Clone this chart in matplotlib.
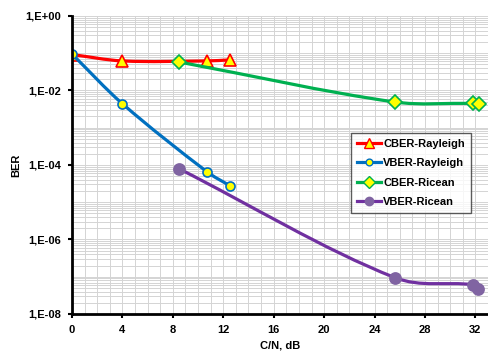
import matplotlib
matplotlib.use('Agg')
import matplotlib.pyplot as plt
import numpy as np
from matplotlib.path import Path
from matplotlib.patches import PathPatch
from matplotlib.lines import Line2D
from matplotlib.ticker import FixedLocator, MultipleLocator, LogLocator, NullFormatter

plt.rcParams['font.family'] = ['Liberation Sans', 'DejaVu Sans']
plt.rcParams['font.weight'] = 'bold'

# data (C/N in dB, BER)
cber_ray_x = [0, 4, 10.7, 12.5]
cber_ray_y = [0.092, 0.062, 0.062, 0.066]
vber_ray_x = [0, 4, 10.7, 12.5]
vber_ray_y = [0.095, 0.0044, 6.6e-5, 2.8e-5]
cber_ric_x = [8.5, 25.6, 31.8, 32.3]
cber_ric_y = [0.058, 0.0049, 0.0045, 0.0044]
vber_ric_x = [8.5, 25.6, 31.8, 32.2]
vber_ric_y = [7.9e-5, 9.5e-8, 6.1e-8, 4.8e-8]

y_ticks = [1e0, 1e-2, 1e-4, 1e-6, 1e-8]
y_ticklabels = ['1,E+00', '1,E-02', '1,E-04', '1,E-06', '1,E-08']
x_ticks = [0, 4, 8, 12, 16, 20, 24, 28, 32]


def smooth_path(xs, ys):
    # smoothed line like excel: bezier through points, tangents scaled by x-spacing
    px = np.array(xs, float)
    py = np.log10(ys)
    n = len(px)
    verts = [(px[0], 10 ** py[0])]
    codes = [Path.MOVETO]
    for i in range(n - 1):
        h = px[i + 1] - px[i]
        i0 = max(i - 1, 0)
        i3 = min(i + 2, n - 1)
        f1 = h / (px[i + 1] - px[i0]) / 3
        f2 = h / (px[i3] - px[i]) / 3
        c1x = px[i] + (px[i + 1] - px[i0]) * f1
        c1y = py[i] + (py[i + 1] - py[i0]) * f1
        c2x = px[i + 1] - (px[i3] - px[i]) * f2
        c2y = py[i + 1] - (py[i3] - py[i]) * f2
        verts += [(c1x, 10 ** c1y), (c2x, 10 ** c2y), (px[i + 1], 10 ** py[i + 1])]
        codes += [Path.CURVE4] * 3
    return Path(verts, codes)


fig = plt.figure(figsize=(4.88, 3.54), dpi=100)
ax = fig.add_axes([0.1475, 0.113, 0.8525, 0.842])
ax.set_yscale('log')
ax.set_xlim(0, 33)
ax.set_ylim(1e-8, 1)

series = [
    (cber_ray_x, cber_ray_y, 'CBER-Rayleigh', '#ff0000', '^', '#ffff00', '#ff0000', 9),
    (vber_ray_x, vber_ray_y, 'VBER-Rayleigh', '#0070c0', 'o', '#ffff00', '#0070c0', 6.5),
    (cber_ric_x, cber_ric_y, 'CBER-Ricean', '#00b050', 'D', '#ffff00', '#00b050', 7.5),
    (vber_ric_x, vber_ric_y, 'VBER-Ricean', '#7030a0', 'o', '#8064a2', '#8064a2', 8),
]

handles = []
z = 3
for xs, ys, name, col, mk, mfc, mec, ms in series:
    patch = PathPatch(smooth_path(xs, ys), facecolor='none', edgecolor=col,
                      lw=2.3, zorder=z, capstyle='round')
    ax.add_patch(patch)
    ax.plot(xs, ys, ls='none', marker=mk, ms=ms, mfc=mfc, mec=mec, mew=1.2, zorder=z + 0.5)
    handles.append(Line2D([], [], color=col, lw=2.3, marker=mk, ms=ms * 0.75,
                          mfc=mfc, mec=mec, mew=1.0, label=name))
    z += 1

ax.yaxis.set_major_locator(FixedLocator(y_ticks))
ax.set_yticklabels(y_ticklabels)
ax.yaxis.set_minor_locator(LogLocator(base=10, subs=np.arange(1, 10), numticks=20))
ax.yaxis.set_minor_formatter(NullFormatter())
ax.set_xticks(x_ticks)
ax.xaxis.set_minor_locator(MultipleLocator(1))

ax.grid(True, which='both', color='#d4d4d4', lw=0.7)
ax.set_axisbelow(True)
ax.tick_params(which='major', direction='out', length=3, width=1.5, labelsize=8)
ax.tick_params(axis='x', which='major', pad=5)
ax.tick_params(axis='y', which='major', pad=5)
ax.tick_params(which='minor', length=0)
for lab in ax.get_xticklabels() + ax.get_yticklabels():
    lab.set_fontweight('bold')

for s in ['top', 'right']:
    ax.spines[s].set_visible(False)
for s in ['left', 'bottom']:
    ax.spines[s].set_linewidth(2)
    ax.spines[s].set_zorder(10)

ax.set_xlabel('C/N, dB', fontsize=8, fontweight='bold', labelpad=4)
ax.set_ylabel('BER', fontsize=8, fontweight='bold', labelpad=3)

leg = ax.legend(handles=handles, loc='upper left', bbox_to_anchor=(0.671, 0.607),
                borderaxespad=0, fontsize=8, frameon=True, fancybox=False,
                handlelength=2.2, handletextpad=0.2, borderpad=0.5, labelspacing=0.85)
leg.get_frame().set_edgecolor('#333333')
leg.get_frame().set_linewidth(1.0)
leg.set_zorder(20)
for t in leg.get_texts():
    t.set_fontweight('bold')

fig.savefig('out.png', dpi=100)
